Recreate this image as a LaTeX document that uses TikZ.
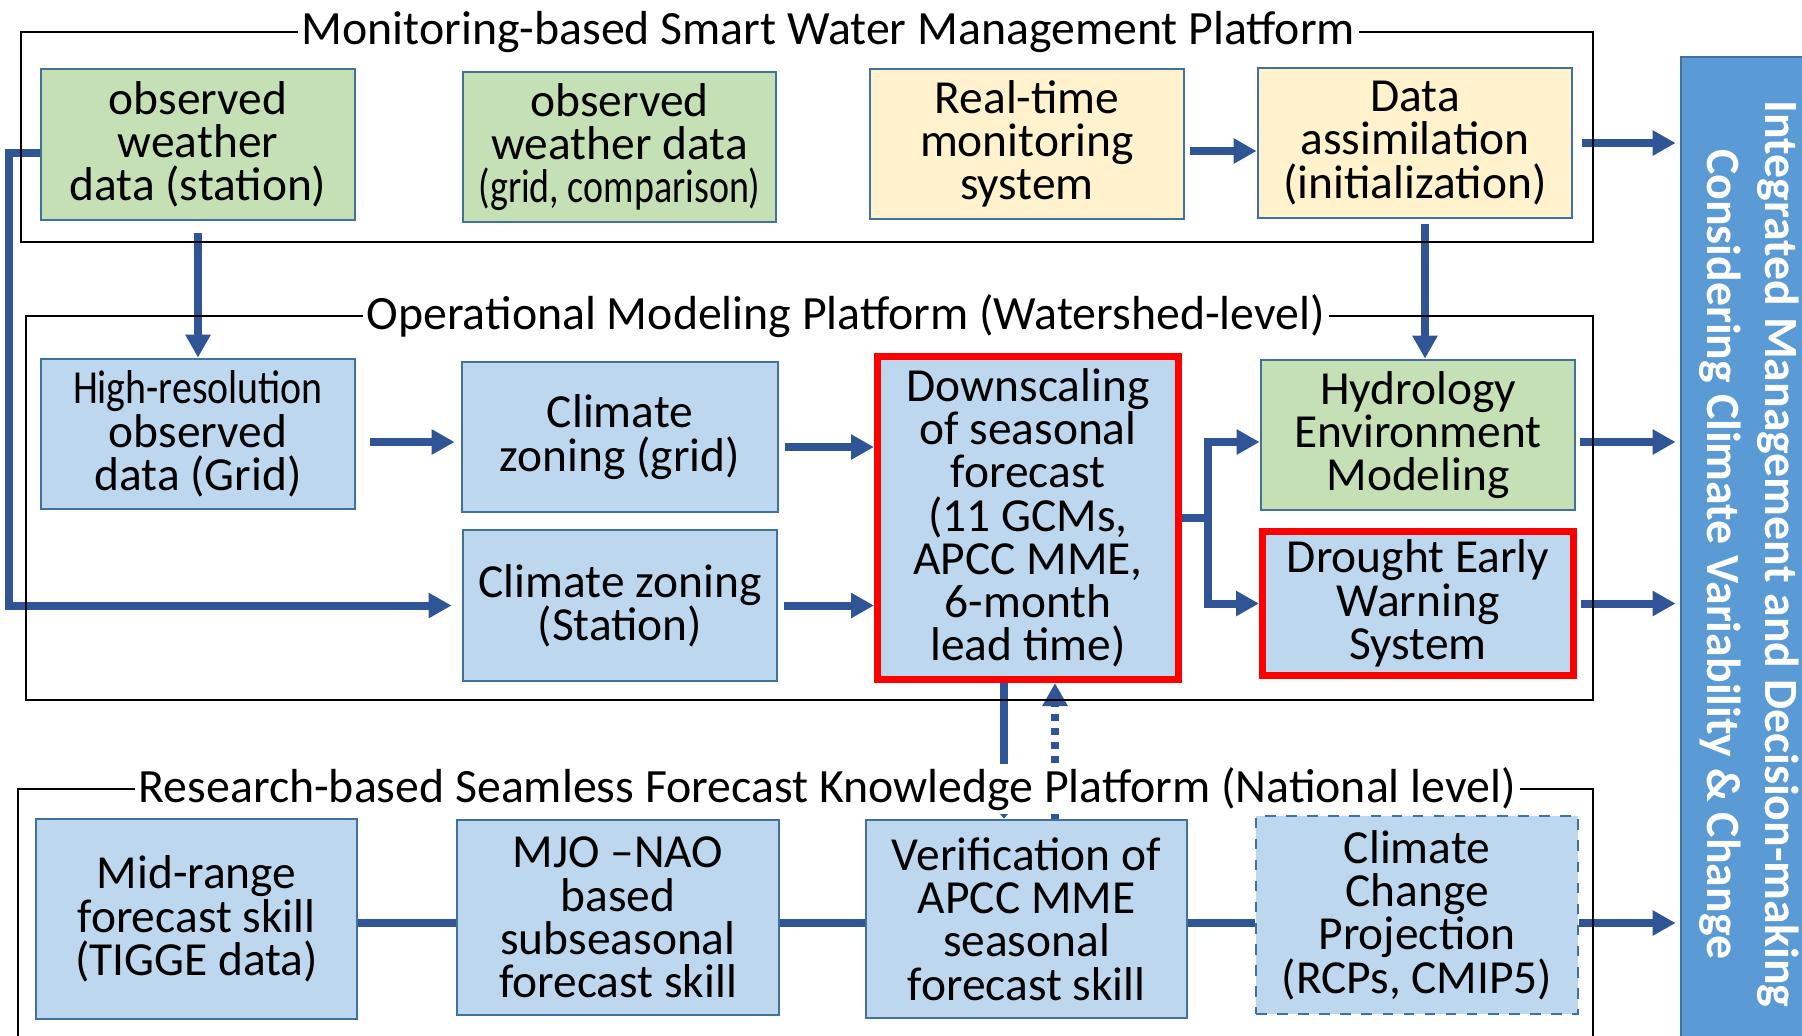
\documentclass[tikz,border=0pt]{standalone}
\usepackage{fontspec}
\setmainfont{Carlito}
\usetikzlibrary{arrows.meta}
\definecolor{boxline}{HTML}{41719C}
\definecolor{greenfill}{HTML}{C5E0B4}
\definecolor{bluefill}{HTML}{BDD7EE}
\definecolor{yellowfill}{HTML}{FFF2CC}
\definecolor{flowblue}{HTML}{2F5597}
\definecolor{barfill}{HTML}{5B9BD5}
\newcommand{\blockfont}{\fontsize{13.5}{12.3}\selectfont}
\newcommand{\platformfont}{\fontsize{13.6}{14}\selectfont}

\begin{document}
\begin{tikzpicture}[
    block/.style={draw=boxline,line width=0.8pt,align=center,inner sep=0pt,font=\blockfont},
    greenbox/.style={block,fill=greenfill},
    bluebox/.style={block,fill=bluefill},
    yellowbox/.style={block,fill=yellowfill},
    redbox/.style={block,fill=bluefill,draw=red,line width=0.07cm},
    flow/.style={draw=flowblue,line width=0.08cm,-{Triangle[length=0.23cm,width=0.24cm]}},
    link/.style={draw=flowblue,line width=0.08cm},
    platform/.style={draw=black,line width=0.8pt},
    platformtitle/.style={anchor=west,fill=white,inner xsep=0.04cm,inner ysep=0.03cm,font=\platformfont}]
    \useasboundingbox (0,0) rectangle (18.02,-10.35);
    \clip (0,0) rectangle (18.02,-10.35);

    \node at (1.98,-1.445) [greenbox,minimum width=3.14cm,minimum height=1.51cm] (obs_st) {observed\\weather\\data (station)};
    \node at (6.195,-1.47) [greenbox,minimum width=3.13cm,minimum height=1.50cm] (obs_grid) {observed\\weather data\\\scalebox{0.8}[1]{(grid, comparison)}};
    \node at (10.27,-1.44) [yellowbox,minimum width=3.14cm,minimum height=1.50cm] (realtime) {Real-time\\monitoring\\system};
    \node at (14.15,-1.43) [yellowbox,minimum width=3.14cm,minimum height=1.50cm] (assim) {Data\\assimilation\\(initialization)};

    \node at (1.98,-4.34) [bluebox,minimum width=3.14cm,minimum height=1.50cm] (highres) {\scalebox{0.84}[1]{High-resolution}\\observed\\data (Grid)};
    \node at (6.20,-4.37) [bluebox,minimum width=3.16cm,minimum height=1.50cm] (clim_grid) {Climate\\zoning (grid)};
    \node at (6.20,-6.055) [bluebox,minimum width=3.14cm,minimum height=1.51cm] (clim_st) {Climate zoning\\(Station)};
    \node at (10.28,-5.18) [redbox,minimum width=3.01cm,minimum height=3.23cm] (downscale) {Downscaling\\of seasonal\\forecast\\(11 GCMs,\\APCC MME,\\6-month\\lead time)};
    \node at (14.18,-4.35) [greenbox,minimum width=3.14cm,minimum height=1.50cm] (hydro) {Hydrology\\Environment\\Modeling};
    \node at (14.18,-6.035) [redbox,minimum width=3.11cm,minimum height=1.44cm] (drought) {Drought Early\\Warning\\System};

    \node at (1.965,-9.19) [bluebox,minimum width=3.21cm,minimum height=2.00cm] (midrange) {Mid-range\\forecast skill\\(TIGGE data)};
    \node at (6.18,-9.175) [bluebox,minimum width=3.22cm,minimum height=1.95cm] (mjo) {MJO --NAO\\based\\subseasonal\\forecast skill};
    \node at (10.265,-9.19) [bluebox,minimum width=3.21cm,minimum height=1.98cm] (verif) {Verification of\\APCC MME\\seasonal\\forecast skill};
    \node at (14.17,-9.15) [bluebox,dashed,minimum width=3.22cm,minimum height=1.98cm] (ccproj) {Climate\\Change\\Projection\\(RCPs, CMIP5)};
    \coordinate (research_row) at (0,-9.23);

    \node at (17.49,-5.54) [rotate=-90,fill=barfill,draw=boxline,line width=0.8pt,minimum width=9.94cm,minimum height=1.36cm,align=center,text=white,font=\bfseries\fontsize{13.6}{16.5}\selectfont] (bar) {Integrated Management and Decision-making\\Considering Climate Variability \& Change};

    \draw[flow,shorten <=0.12cm] (obs_st) -- (highres);
    \draw[flow,shorten >=0.1cm] ([yshift=-0.08cm]obs_st.west) -- ++(-0.31,0) |- (clim_st.west);
    \draw[flow,shorten <=0.14cm,shorten >=0.06cm] ([yshift=-0.08cm]highres.east) -- ([yshift=-0.08cm]highres.east -| clim_grid.west);
    \draw[flow,shorten <=0.06cm] ([yshift=-0.1cm]clim_grid.east) -- ([yshift=-0.1cm]clim_grid.east -| downscale.west);
    \draw[flow,shorten <=0.06cm] (clim_st.east) -- (clim_st.east -| downscale.west);
    \draw[flow,shorten <=0.05cm] ([yshift=-0.07cm]realtime.east) -- ([yshift=-0.07cm]realtime.east -| assim.west);
    \draw[flow,shorten <=0.09cm,shorten >=0.04cm] (assim.east) -- (assim.east -| bar.south);
    \draw[flow,shorten <=0.05cm] ([xshift=0.1cm]assim.south) -- ([xshift=0.1cm]assim.south |- hydro.north);
    \draw[flow] (downscale.east) -- ++(0.26,0) |- ([yshift=-0.07cm]hydro.west);
    \draw[flow] (downscale.east) -- ++(0.26,0) |- (drought.west);
    \draw[flow,shorten <=0.04cm,shorten >=0.04cm] ([yshift=-0.07cm]hydro.east) -- ([yshift=-0.07cm]hydro.east -| bar.south);
    \draw[flow,shorten <=0.04cm,shorten >=0.04cm] (drought.east) -- (drought.east -| bar.south);

    \draw[link] (midrange.east |- research_row) -- (mjo.west |- research_row);
    \draw[link] (mjo.east |- research_row) -- (verif.west |- research_row);
    \draw[link] (verif.east |- research_row) -- (ccproj.west |- research_row);
    \draw[flow,shorten >=0.04cm] (ccproj.east |- research_row) -- (bar.south |- research_row);

    \draw[link,-{Triangle[length=0.06cm,width=0.1cm]}] ([xshift=-0.24cm]downscale.south) -- ([xshift=-0.24cm]downscale.south |- verif.north);
    \draw[flow,dash pattern=on 0.07cm off 0.07cm] ([xshift=0.27cm]downscale.south |- verif.north) -- ([xshift=0.27cm]downscale.south);

    \draw[platform] (0.21,-0.32) rectangle (15.93,-2.42);
    \draw[platform] (0.26,-3.16) rectangle (15.93,-7.00);
    \draw[platform] (0.18,-7.89) rectangle (15.93,-10.6);

    \node at (2.97,-0.32) [platformtitle] (title_monitor) {Monitoring-based Smart Water Management Platform};
    \node at (3.62,-3.16) [platformtitle] (title_model) {Operational Modeling Platform (Watershed-level)};
    \node at (1.34,-7.89) [platformtitle] (title_research) {Research-based Seamless Forecast Knowledge Platform (National level)};
\end{tikzpicture}
\end{document}
